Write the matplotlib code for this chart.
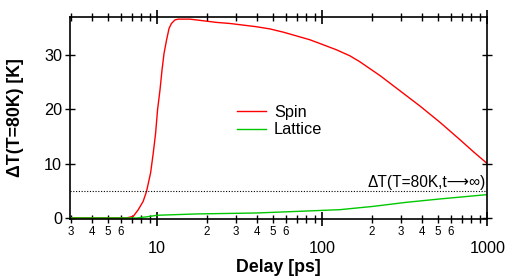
import matplotlib
matplotlib.use("Agg")
import matplotlib.pyplot as plt
from matplotlib.ticker import FixedLocator, FuncFormatter
import numpy as np

plt.rcParams['font.family'] = ['Liberation Sans', 'DejaVu Sans']

# Data
delay_spin = [2.95, 6.5, 7.16, 7.67, 8.22, 8.62, 9.12, 9.46, 9.78, 10.05, 10.4, 10.7,
              11.0, 11.4, 11.8, 12.2, 12.8, 13.4, 15.8, 19.0, 22.9, 27.6, 33.2, 40.0,
              48.2, 58.1, 70.0, 84.2, 101, 122, 147, 169, 224, 296, 391, 517, 683, 823, 1000]
spin = [0, 0, 0.3, 1.5, 3.05, 4.9, 8.3, 11.9, 15.6, 19.9, 23.6, 27.3,
        30.3, 32.8, 34.9, 35.8, 36.45, 36.6, 36.6, 36.3, 36.0, 35.8, 35.5, 35.2,
        34.8, 34.2, 33.5, 32.8, 31.9, 30.95, 29.85, 28.75, 26.2, 23.4, 20.6, 17.6, 14.4, 12.2, 10.0]

delay_lattice = [2.95, 7.5, 8.6, 10, 17.3, 40, 64, 90, 128, 203, 321, 516, 1000]
lattice = [0, 0, 0.2, 0.5, 0.74, 0.92, 1.16, 1.34, 1.53, 2.13, 2.87, 3.5, 4.3]

limit_value = 5.0
series_labels = ["Spin", "Lattice"]
annotation = "ΔT(T=80K,t⟶∞)"
xlabel = "Delay [ps]"
ylabel = "ΔT(T=80K) [K]"
y_ticks = [0, 10, 20, 30]
x_major = [10, 100, 1000]
x_minor = [m * 10.0 ** e for e in range(0, 3) for m in range(2, 10)]

fig = plt.figure(figsize=(5.24, 2.78), dpi=100)
ax = fig.add_axes([0.133, 0.213, 0.797, 0.725])

ax.plot(delay_spin, spin, color='#ff0000', lw=1.0, label=series_labels[0])
ax.plot(delay_lattice, lattice, color='#00c800', lw=1.0, label=series_labels[1])
ax.axhline(limit_value, color='black', lw=0.8, ls=(0, (1, 1.5)))
ax.text(0.996, 5.75, annotation, transform=ax.get_yaxis_transform(),
        ha='right', va='baseline', fontsize=11.2)

ax.set_xscale('log')
ax.set_xlim(2.95, 1000)
ax.set_ylim(-0.15, 36.95)

ax.xaxis.set_major_locator(FixedLocator(x_major))
ax.xaxis.set_minor_locator(FixedLocator(x_minor))
ax.xaxis.set_major_formatter(FuncFormatter(lambda v, p: f"{int(round(v))}"))

def minor_fmt(v, p):
    m = v / 10 ** np.floor(np.log10(v) + 1e-9)
    mi = int(round(m))
    return str(mi) if mi in (2, 3, 4, 5, 6) else ""
ax.xaxis.set_minor_formatter(FuncFormatter(minor_fmt))
ax.set_yticks(y_ticks)

ax.tick_params(axis='x', which='major', direction='inout', length=10, width=1.2,
               top=True, labelsize=11.7, pad=11)
ax.tick_params(axis='x', which='minor', direction='inout', length=6, width=1.0,
               top=True, labelsize=8.3, pad=2)
ax.tick_params(axis='y', which='major', direction='inout', length=7, width=1.0,
               right=True, labelsize=11.7, pad=2)
for s in ax.spines.values():
    s.set_linewidth(1.2)

ax.set_xlabel(xlabel, fontsize=12.8, fontweight='bold', labelpad=2)
ax.set_ylabel(ylabel, fontsize=12.8, fontweight='bold', labelpad=14)

ax.legend(loc='upper left', bbox_to_anchor=(0.4, 0.565), frameon=False,
          fontsize=11.7, handlelength=1.8, handletextpad=0.5, labelspacing=0.15,
          borderpad=0, borderaxespad=0)

fig.savefig("out.png", dpi=100)
